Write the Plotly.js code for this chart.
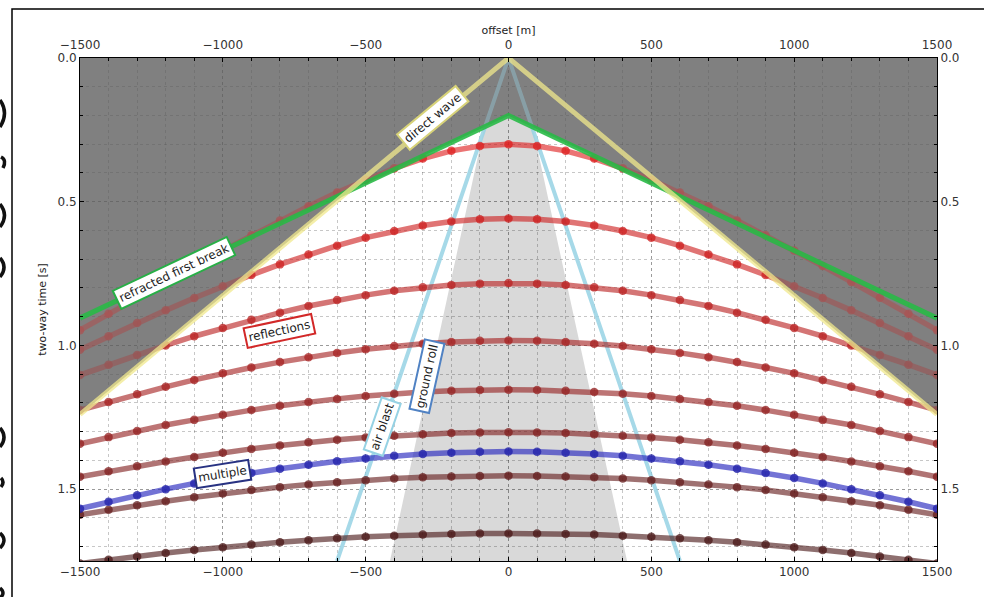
<!DOCTYPE html>
<html><head><meta charset="utf-8">
<script src="https://cdn.plot.ly/plotly-3.0.1.min.js"></script>
<style>html,body{margin:0;padding:0;background:#fff}#chart{width:984px;height:597px}</style>
</head><body><div id="chart"></div>
<script>
// ---- data ----
const offsets = [0,100,200,300,400,500,600,700,800,900,1000,1100,1200,1300,1400,1500];
const refl1 = [0.300,0.306,0.323,0.350,0.384,0.424,0.468,0.516,0.565,0.617,0.670,0.724,0.779,0.834,0.890,0.947];
const refl2 = [0.558,0.561,0.569,0.583,0.602,0.625,0.653,0.684,0.718,0.755,0.794,0.835,0.878,0.922,0.968,1.015];
const refl3 = [0.783,0.785,0.790,0.798,0.810,0.825,0.842,0.863,0.886,0.911,0.939,0.968,1.000,1.033,1.067,1.103];
const refl4 = [0.983,0.984,0.988,0.994,1.002,1.013,1.026,1.041,1.058,1.077,1.097,1.120,1.144,1.170,1.197,1.225];
const refl5 = [1.154,1.155,1.158,1.162,1.168,1.176,1.186,1.197,1.210,1.225,1.241,1.259,1.277,1.298,1.319,1.342];
const refl6 = [1.302,1.303,1.305,1.309,1.314,1.320,1.328,1.337,1.348,1.360,1.373,1.388,1.404,1.420,1.438,1.457];
const refl7 = [1.453,1.454,1.456,1.459,1.463,1.469,1.476,1.484,1.493,1.503,1.515,1.528,1.542,1.556,1.572,1.589];
const refl8 = [1.654,1.654,1.656,1.658,1.662,1.666,1.671,1.678,1.685,1.693,1.702,1.712,1.722,1.734,1.746,1.759];
const multipleT = [1.369,1.370,1.373,1.378,1.384,1.393,1.403,1.415,1.429,1.444,1.461,1.480,1.500,1.521,1.544,1.568];
const directOffsets = [-1500, 0, 1500];
const directTimes = [1.24, 0, 1.24];
const refrOffsets = [-1500, 0, 1500];
const refrTimes = [0.905, 0.2, 0.905];
const airOffsets = [-600, 0, 600];
const airTimes = [1.75, 0, 1.75];
const rollOffsets = [-415, -32, 32, 415];
const rollTimes = [1.75, 0, 0, 1.75];
const xTickVals = [-1500,-1000,-500,0,500,1000,1500];
const yTickVals = [0.0,0.5,1.0,1.5];
const labels = {direct:'direct wave', refr:'refracted first break', refl:'reflections', roll:'ground roll', air:'air blast', mult:'multiple'};

// ---- helpers ----
const fullX = offsets.slice(1).reverse().map(v => -v).concat(offsets);
const mirror = a => a.slice(1).reverse().concat(a);

function intersect(p1, p2, p3, p4) {
  const [x1,y1]=p1,[x2,y2]=p2,[x3,y3]=p3,[x4,y4]=p4;
  const d=(x1-x2)*(y3-y4)-(y1-y2)*(x3-x4);
  const t=((x1-x3)*(y3-y4)-(y1-y3)*(x3-x4))/d;
  return [x1+t*(x2-x1), y1+t*(y2-y1)];
}
// upper envelope of direct & refracted arrivals -> dark mask
const D = directOffsets.map((x,i)=>[x,directTimes[i]]);
const R = refrOffsets.map((x,i)=>[x,refrTimes[i]]);
const iL = intersect(D[0],D[1],R[0],R[1]);
const iR = intersect(D[1],D[2],R[1],R[2]);
const env = [[D[0][0], Math.max(D[0][1],R[0][1])], iL, [R[1][0], Math.max(D[1][1],R[1][1])], iR, [D[2][0], Math.max(D[2][1],R[2][1])]];
const maskX = [env[0][0]].concat(env.map(p=>p[0]), [env[4][0]]);
const maskY = [0].concat(env.map(p=>p[1]), [0]);
const maskPath = maskX.map((x,i)=>(i?'L ':'M ')+x+','+maskY[i]).join(' ') + ' Z';
const rollPath = rollOffsets.map((x,i)=>(i?'L ':'M ')+x+','+rollTimes[i]).join(' ') + ' Z';

const reflSeries = [refl1,refl2,refl3,refl4,refl5,refl6,refl7,refl8];
const reflColors = [[222,30,30],[205,30,30],[185,32,32],[165,32,32],[148,32,32],[128,30,30],[100,28,28],[72,22,22]];

const traces = [];
traces.push({x: airOffsets, y: airTimes, mode:'lines', line:{color:'rgba(150,210,228,0.85)', width:4}, hoverinfo:'skip'});
reflSeries.forEach((s,i)=>{
  const c = reflColors[i];
  traces.push({x: fullX, y: mirror(s), mode:'lines+markers',
    line:{color:`rgba(${c[0]},${c[1]},${c[2]},0.62)`, width:5.5},
    marker:{color:`rgba(${c[0]},${c[1]},${c[2]},0.75)`, size:8.5},
    hoverinfo:'skip'});
});
traces.push({x: fullX, y: mirror(multipleT), mode:'lines+markers',
  line:{color:'rgba(40,40,190,0.65)', width:5.5}, marker:{color:'rgba(35,35,170,0.8)', size:8.5}, hoverinfo:'skip'});
// translucent veil over the pre-first-break zone (mutes events drawn beneath)
traces.push({x: maskX, y: maskY, mode:'none', fill:'toself', fillcolor:'rgba(128,128,128,0.55)', hoverinfo:'skip'});
traces.push({x: refrOffsets, y: refrTimes, mode:'lines', line:{color:'rgba(40,185,70,0.9)', width:5}, hoverinfo:'skip'});
traces.push({x: directOffsets, y: directTimes, mode:'lines', line:{color:'rgba(240,232,140,0.75)', width:5}, hoverinfo:'skip'});
// anchor trace so the top / right axes are drawn
traces.push({x: [xTickVals[0]], y: [yTickVals[0]], xaxis:'x2', yaxis:'y2', mode:'markers', marker:{opacity:0}, hoverinfo:'skip'});

const fnt = {family:'DejaVu Sans, sans-serif', size:12, color:'#333'};
const gridc = 'rgba(0,0,0,0.22)';
const xax = {range:[-1500,1500], tickmode:'array', tickvals:xTickVals, ticks:'inside', ticklen:4, tickcolor:'#000',
  showline:true, linecolor:'#000', linewidth:1, mirror:true, zeroline:false,
  showgrid:true, gridcolor:gridc, griddash:'dot', gridwidth:1, tickfont:fnt,
  minor:{tickmode:'linear', tick0:-1500, dtick:100, ticks:'inside', ticklen:3, tickcolor:'#000', showgrid:true, gridcolor:gridc, griddash:'dot', gridwidth:1}};
const yax = {range:[1.75,0], tickmode:'array', tickvals:yTickVals, tickformat:'.1f', ticks:'inside', ticklen:4, tickcolor:'#000',
  showline:true, linecolor:'#000', linewidth:1, mirror:true, zeroline:false,
  showgrid:true, gridcolor:gridc, griddash:'dot', gridwidth:1, tickfont:fnt,
  minor:{tickmode:'linear', tick0:0, dtick:0.1, ticks:'inside', ticklen:3, tickcolor:'#000', showgrid:true, gridcolor:gridc, griddash:'dot', gridwidth:1}};

// pixel -> paper helpers for page decorations (frame, cropped glyph edges at the far left)
const L=80, T=58, W=857, H=503;
const px = v => (v-L)/W, py = v => (T+H-v)/H;
const glyph = (x0,y0,x1,y1,x2,y2) => ({type:'path', xref:'paper', yref:'paper', layer:'above',
  path:`M ${px(x0)},${py(y0)} Q ${px(x1)},${py(y1)} ${px(x2)},${py(y2)}`, line:{color:'#111', width:3.5}});

const layout = {
  width:984, height:597,
  margin:{l:80, r:47, t:58, b:36},
  paper_bgcolor:'#fff', plot_bgcolor:'#fff',
  showlegend:false,
  font:fnt,
  xaxis: Object.assign({}, xax),
  yaxis: Object.assign({}, yax, {title:{text:'two-way time [s]', font:{family:'DejaVu Sans, sans-serif', size:11, color:'#222'}, standoff:8}}),
  xaxis2: Object.assign({}, xax, {overlaying:'x', side:'top', anchor:'y', showgrid:false, ticklabelstandoff:3,
     minor:{tickmode:'linear', tick0:-1500, dtick:100, ticks:'inside', ticklen:3, tickcolor:'#000', showgrid:false},
     title:{text:'offset [m]', font:{family:'DejaVu Sans, sans-serif', size:11, color:'#222'}, standoff:1}}),
  yaxis2: Object.assign({}, yax, {overlaying:'y', side:'right', anchor:'x', showgrid:false, minor:{tickmode:'linear', tick0:0, dtick:0.1, ticks:'inside', ticklen:3, tickcolor:'#000', showgrid:false}}),
  shapes:[
    {type:'path', xref:'x', yref:'y', path:rollPath, fillcolor:'#d9d9d9', line:{width:0}, layer:'below'},
    {type:'path', xref:'x', yref:'y', path:maskPath, fillcolor:'#808080', line:{width:0}, layer:'below'},
    {type:'rect', xref:'paper', yref:'paper', x0:px(12), x1:px(1100), y0:py(700), y1:py(9), line:{color:'#000', width:1.5}, fillcolor:'rgba(0,0,0,0)', layer:'above'},
    glyph(0,100, 9,113, 0,127),
    glyph(1,157, 7,160, 3,168),
    glyph(0,204, 9,215, 0,227),
    glyph(0,258, 8,267, 0,277),
    glyph(0,428, 8,437, 0,447),
    glyph(1,478, 5,482, 1,487),
    glyph(0,533, 8,540, 0,548),
    glyph(0,588, 6,593, 0,598)
  ],
  annotations:[
    {x:-265, y:0.21, text:labels.direct, textangle:-39.6, bordercolor:'rgba(215,210,120,1)'},
    {x:-1171, y:0.748, text:labels.refr, textangle:-25.3, bordercolor:'rgb(40,175,70)'},
    {x:-803, y:0.951, text:labels.refl, textangle:-12, bordercolor:'rgb(210,40,40)'},
    {x:-284, y:1.108, text:labels.roll, textangle:-77.5, bordercolor:'rgb(80,130,195)'},
    {x:-440, y:1.282, text:labels.air, textangle:-71, bordercolor:'rgb(150,210,228)'},
    {x:-1000, y:1.447, text:labels.mult, textangle:-9, bordercolor:'rgb(40,50,130)'}
  ].map(a=>Object.assign({xref:'x', yref:'y', showarrow:false, xanchor:'center', yanchor:'middle', bgcolor:'#fff', borderwidth:2, borderpad:2,
     font:{family:'DejaVu Sans, sans-serif', size:12, color:'#222'}}, a))
};

Plotly.newPlot('chart', traces, layout, {staticPlot:true, displayModeBar:false});
</script>
</body></html>
